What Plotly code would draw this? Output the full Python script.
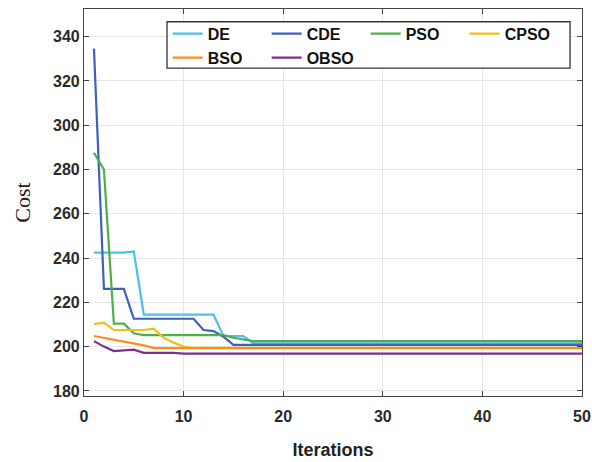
import plotly.graph_objects as go

iterations = list(range(1, 51))

de = [242.5, 242.5, 242.5, 242.5, 243.0, 214.5, 214.5, 214.5, 214.5, 214.5,
      214.5, 214.5, 214.5, 204.8, 204.8, 204.8, 201.5] + [201.5] * 33
cde = [334.6, 226.1, 226.1, 226.1, 212.6, 212.6, 212.6, 212.6, 212.6, 212.6,
       212.6, 207.5, 207.0, 204.5, 200.8, 200.8, 200.8] + [200.8] * 33
pso = [287.6, 280.0, 210.4, 210.4, 206.0, 205.2, 205.2, 205.2, 205.2, 205.2,
       205.2, 205.2, 205.2, 205.2, 204.0, 203.2, 202.5] + [202.5] * 33
cpso = [210.2, 210.8, 207.5, 207.5, 207.5, 207.5, 208.1, 204.0, 201.8, 200.0,
        199.5, 199.5, 199.5, 199.5, 199.5, 199.5, 199.5] + [199.5] * 33
bso = [204.8, 204.0, 203.1, 202.3, 201.5, 200.6, 199.3, 199.3, 199.3, 199.3,
       199.3, 199.3, 199.3, 199.3, 199.3, 199.3, 199.3] + [199.3] * 33
obso = [202.5, 200.0, 198.0, 198.3, 198.6, 197.2, 197.2, 197.2, 197.2, 196.8,
        196.8, 196.8, 196.8, 196.8, 196.8, 196.8, 196.8] + [196.8] * 33

series = [
    ("DE", de, "#4DBEEE", "legend"),
    ("CDE", cde, "#3F5FBF", "legend"),
    ("PSO", pso, "#4DAF4A", "legend"),
    ("CPSO", cpso, "#EDC020", "legend"),
    ("BSO", bso, "#FF8C1A", "legend2"),
    ("OBSO", obso, "#7E2F8E", "legend2"),
]

fig = go.Figure()
for name, vals, color, leg in series:
    fig.add_trace(go.Scatter(x=iterations, y=vals, mode="lines", name=name, legend=leg,
                             line=dict(color=color, width=2.2)))

legend_font = dict(family="Liberation Sans, Arial, sans-serif", size=16,
                   color="#111", weight="bold")
leg_common = dict(orientation="h", x=0.168, xanchor="left", yanchor="top",
                  borderwidth=0, bgcolor="rgba(0,0,0,0)",
                  entrywidth=54, entrywidthmode="pixels", font=legend_font)

# frame around both legend rows
fig.add_shape(type="rect", xref="paper", yref="paper",
              x0=0.1667, x1=0.976, y0=0.847, y1=0.967,
              line=dict(color="#333", width=1.3), fillcolor="white", layer="above")

axis_font = dict(family="Liberation Sans, Arial, sans-serif", size=16, color="#2a2a2a", weight="bold")
fig.update_layout(
    width=592, height=462,
    margin=dict(l=84, r=10, t=9, b=66),
    paper_bgcolor="white", plot_bgcolor="white",
    showlegend=True,
    legend=dict(y=0.980, **leg_common),
    legend2=dict(y=0.918, **leg_common),
    xaxis=dict(range=[0, 50], tickvals=[0, 10, 20, 30, 40, 50], tickfont=axis_font,
               automargin=False, ticklabelstandoff=6,
               showgrid=True, gridcolor="#E6E6E6", gridwidth=1,
               showline=True, linecolor="#444", linewidth=1.2, mirror="ticks",
               ticks="inside", ticklen=5, tickcolor="#444", zeroline=False,
               title=dict(text="Iterations", standoff=19,
                          font=dict(family="Liberation Sans, Arial, sans-serif", size=18,
                                    color="#222", weight="bold"))),
    yaxis=dict(range=[177.7, 352.5], tickvals=[180, 200, 220, 240, 260, 280, 300, 320, 340],
               tickfont=axis_font, automargin=False,
               showgrid=True, gridcolor="#E6E6E6", gridwidth=1,
               showline=True, linecolor="#444", linewidth=1.2, mirror="ticks",
               ticks="inside", ticklen=5, tickcolor="#444", zeroline=False,
               title=dict(text="Cost", standoff=16,
                          font=dict(family="Liberation Serif, Times New Roman, serif", size=22,
                                    color="#222"))),
)

fig.write_html("out.html", config={"displayModeBar": False},
               post_script="document.body.style.margin='0';")
